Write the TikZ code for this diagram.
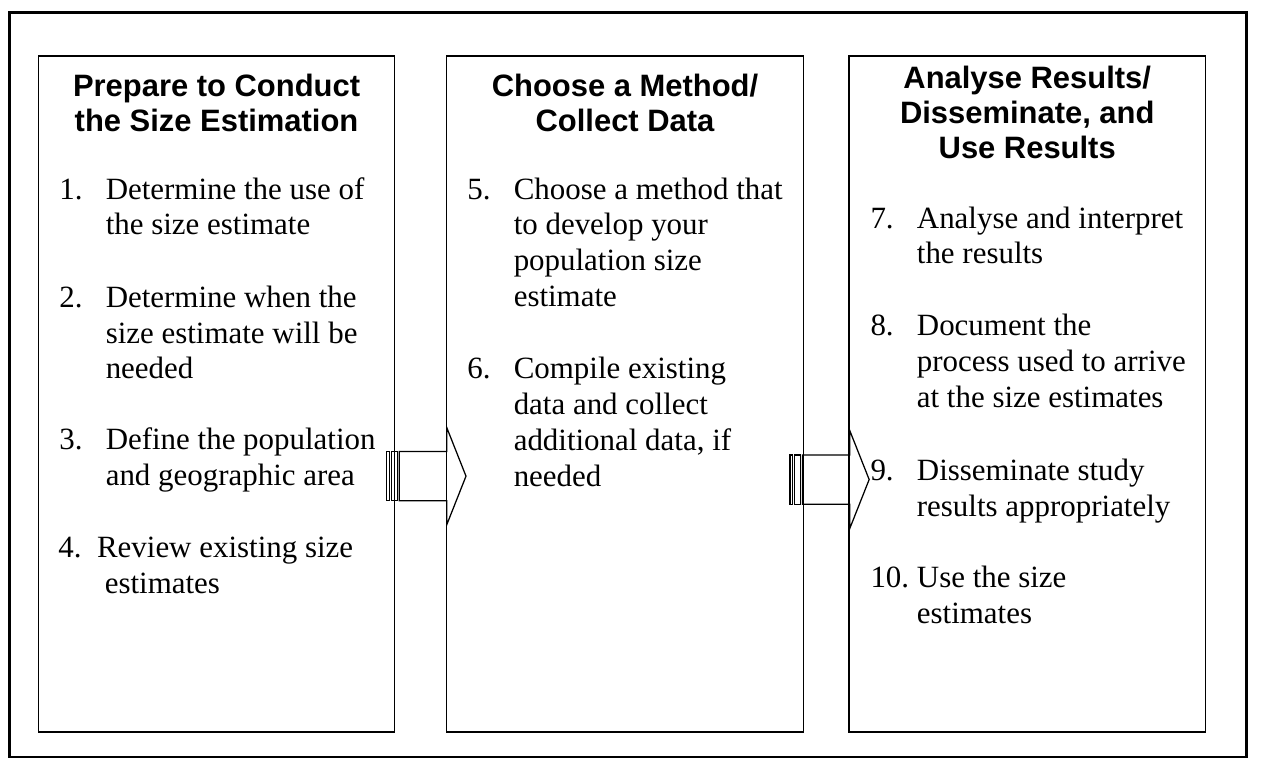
\documentclass[tikz,border=0pt]{standalone}
\usepackage{fontspec}
\setmainfont{Liberation Serif}
\newfontfamily\headfont{Liberation Sans}
\usetikzlibrary{calc}
\def\stripedarrow(#1){%
	\draw[arrowline] (#1) ++(0,-25.5) rectangle ++(3,51);
	\draw[arrowline] (#1) ++(5,-25.5) rectangle ++(6,51);
	\draw[arrowline] (#1) ++(13,-25.5) -- ++(49,0) -- ++(0,-25) -- ++(20,50.5) -- ++(-20,50.5) -- ++(0,-25) -- ++(-49,0) -- cycle;}
\tikzset{
	frame/.style={line width=1.5pt},
	stage/.style={draw, line width=0.8pt, inner sep=0pt},
	arrowline/.style={line width=0.65pt, line join=miter},
	heading/.style={font=\headfont\bfseries\fontsize{16pt}{18pt}\selectfont, align=center, anchor=base, inner sep=0pt},
	num/.style={font=\fontsize{16pt}{18.5pt}\selectfont, anchor=base west, inner sep=0pt},
	itemtext/.style={num, align=left},
}
\begin{document}
\begin{tikzpicture}[x=0.5pt, y=-0.5pt]
		%%%%% START %%%%%
		\useasboundingbox (0,0) rectangle (1325,802.6);
		
		\draw[frame] (9.5,13) rectangle (1289,783);
		
		\node[stage, minimum width=184pt, minimum height=349.5pt] (prep) at (224,407.5) {};
		\node[stage, minimum width=184.5pt, minimum height=349.5pt] (collect) at (646.5,407.5) {};
		\node[stage, minimum width=184.5pt, minimum height=349.5pt] (results) at (1062.5,407.5) {};
		
		\coordinate (tail1) at (400,492.5);
		\coordinate (tail2) at (817,496);
		\stripedarrow(tail1)
		\stripedarrow(tail2)
		
		% first box (multi-line nodes sit on their last baseline)
		\node[heading] (h1) at (224,136) {Prepare to Conduct\\the Size Estimation};
		\node[num] (n1) at (61,206) {1.};
		\node[itemtext] (t1) at (109,243) {Determine the use of\\the size estimate};
		\node[num] (n2) at (61,318) {2.};
		\node[itemtext] (t2) at (109,392) {Determine when the\\size estimate will be\\needed};
		\node[num] (n3) at (61,465) {3.};
		\node[itemtext] (t3) at (109,502) {Define the population\\and geographic area};
		\node[num] (n4) at (60,577) {4.};
		\node[itemtext] (t4) at (100,614) {Review existing size\\\hspace*{4pt}estimates};
		
		% second box
		\node[heading] (h2) at (646.5,136) {Choose a Method/\\Collect Data};
		\node[num] (n5) at (483,206) {5.};
		\node[itemtext] (t5) at (531,317) {Choose a method that\\to develop your\\population size\\estimate};
		\node[num] (n6) at (483,392) {6.};
		\node[itemtext] (t6) at (531,503) {Compile existing\\data and collect\\additional data, if\\needed};
		
		% third box
		\node[heading] (h3) at (1062.5,164) {Analyse Results/\\Disseminate, and\\Use Results};
		\node[num] (n7) at (900,236) {7.};
		\node[itemtext] (t7) at (948,273) {Analyse and interpret\\the results};
		\node[num] (n8) at (900,347) {8.};
		\node[itemtext] (t8) at (948,421) {Document the\\process used to arrive\\at the size estimates};
		\node[num] (n9) at (900,497) {9.};
		\node[itemtext] (t9) at (948,534) {Disseminate study\\results appropriately};
		\node[num] (n10) at (900,608) {10.};
		\node[itemtext] (t10) at (948,645) {Use the size\\estimates};
		
		%%%%% END %%%%%
\end{tikzpicture}
\end{document}
